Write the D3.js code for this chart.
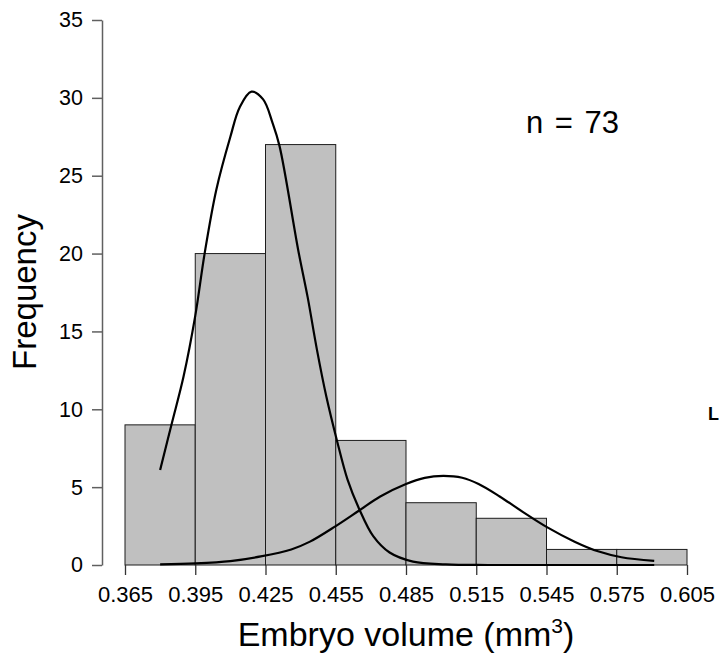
<!DOCTYPE html>
<html>
<head>
<meta charset="utf-8">
<script src="https://cdn.jsdelivr.net/npm/d3@7"></script>
<style>
  body { margin: 0; background: #fff; }
  svg { display: block; font-family: "Liberation Sans", Arial, sans-serif; }
</style>
</head>
<body>
<div id="chart"></div>
<script>
// histogram bins (mm3) and counts
const binEdges = [0.365, 0.395, 0.425, 0.455, 0.485, 0.515, 0.545, 0.575, 0.605];
const binCounts = [9, 20, 27, 8, 4, 3, 1, 1];
const xTickLabels = ['0.365', '0.395', '0.425', '0.455', '0.485', '0.515', '0.545', '0.575', '0.605'];
const yTicks = [0, 5, 10, 15, 20, 25, 30, 35];

// fitted curves
const fit1X = [0.380, 0.385, 0.390, 0.395, 0.399, 0.404, 0.410, 0.414, 0.419, 0.424, 0.428, 0.431,
  0.439, 0.443, 0.447, 0.451, 0.4555, 0.460, 0.465, 0.471, 0.478, 0.488, 0.502, 0.520, 0.550, 0.591];
const fit1Y = [6.1, 9.1, 12.1, 16.0, 20.0, 24.1, 27.5, 29.4, 30.4, 29.9, 28.4, 26.9,
  20.2, 17.2, 13.8, 10.8, 8.0, 5.5, 3.6, 1.85, 0.8, 0.22, 0.04, 0.0, 0.0, 0.0];
const fit2X = [0.380, 0.395, 0.410, 0.423, 0.436, 0.444, 0.455, 0.465, 0.474, 0.485, 0.493, 0.501,
  0.509, 0.516, 0.525, 0.535, 0.545, 0.557, 0.567, 0.577, 0.591];
const fit2Y = [0.04, 0.1, 0.25, 0.55, 1.0, 1.5, 2.5, 3.5, 4.4, 5.2, 5.6, 5.72,
  5.6, 5.2, 4.4, 3.4, 2.45, 1.5, 0.88, 0.5, 0.26];

const sampleLabel = 'n = 73';
const xTitle = 'Embryo volume (mm';
const xTitleSup = '3';
const yTitle = 'Frequency';

const width = 719;
const height = 656;
const margin = { top: 20, right: 32, bottom: 91, left: 125 };
const font = '"Liberation Sans", Arial, sans-serif';

const svg = d3.select('#chart')
  .append('svg')
  .attr('width', width)
  .attr('height', height);

const x = d3.scaleLinear()
  .domain([binEdges[0], binEdges[binEdges.length - 1]])
  .range([margin.left, width - margin.right]);
const y = d3.scaleLinear()
  .domain([0, 35])
  .range([height - margin.bottom, margin.top]);

const bins = binCounts.map((c, i) => ({ x0: binEdges[i], x1: binEdges[i + 1], count: c }));

svg.append('g')
  .selectAll('rect')
  .data(bins)
  .enter()
  .append('rect')
  .attr('x', d => x(d.x0))
  .attr('y', d => y(d.count))
  .attr('width', d => x(d.x1) - x(d.x0))
  .attr('height', d => y(0) - y(d.count))
  .style('fill', '#c0c0c0')
  .style('stroke', '#1c1c1c')
  .style('stroke-width', 1);

// y axis
const yAxis = svg.append('g')
  .attr('transform', `translate(102,0)`)
  .call(d3.axisLeft(y).tickValues(yTicks).tickSize(10).tickSizeOuter(0).tickPadding(9))
  .attr('font-family', font)
  .attr('font-size', 21.5);
yAxis.select('.domain').attr('stroke', '#606060').attr('stroke-width', 1.5);
yAxis.selectAll('.tick line').attr('stroke', '#606060').attr('stroke-width', 1.5);
yAxis.selectAll('.tick text').attr('fill', '#000');

// x axis, ticks only
const xAxis = svg.append('g')
  .attr('transform', `translate(0,${y(0)})`)
  .call(d3.axisBottom(x)
    .tickValues(binEdges)
    .tickFormat((d, i) => xTickLabels[i])
    .tickSize(10)
    .tickSizeOuter(0)
    .tickPadding(11))
  .attr('font-family', font)
  .attr('font-size', 22);
xAxis.select('.domain').remove();
xAxis.selectAll('.tick line').attr('stroke', '#333').attr('stroke-width', 1.3);
xAxis.selectAll('.tick text').attr('fill', '#000');

// fitted curves
const line = d3.line()
  .x(d => x(d[0]))
  .y(d => y(d[1]))
  .curve(d3.curveCatmullRom.alpha(0.5));

[[fit1X, fit1Y], [fit2X, fit2Y]].forEach(([xs, ys]) => {
  svg.append('path')
    .datum(xs.map((v, i) => [v, ys[i]]))
    .attr('d', line)
    .style('fill', 'none')
    .style('stroke', '#000')
    .style('stroke-width', 2.2);
});

// titles
const xt = svg.append('text')
  .attr('x', (x.range()[0] + x.range()[1]) / 2)
  .attr('y', 646)
  .style('text-anchor', 'middle')
  .style('font-size', '34px')
  .attr('fill', '#000');
xt.append('tspan').text(xTitle);
xt.append('tspan').attr('dy', -13).style('font-size', '21px').text(xTitleSup);
xt.append('tspan').attr('dy', 13).text(')');

svg.append('text')
  .attr('transform', 'translate(36,292) rotate(-90)')
  .style('text-anchor', 'middle')
  .style('font-size', '33px')
  .attr('fill', '#000')
  .text(yTitle);

svg.append('text')
  .attr('x', 526)
  .attr('y', 133)
  .style('font-size', '31px')
  .style('word-spacing', '3px')
  .attr('fill', '#000')
  .text(sampleLabel);

// label at the right edge
svg.append('text')
  .attr('x', 708)
  .attr('y', 420)
  .style('font-size', '18px')
  .style('font-weight', 'bold')
  .attr('fill', '#000')
  .text('L');
</script>
</body>
</html>
